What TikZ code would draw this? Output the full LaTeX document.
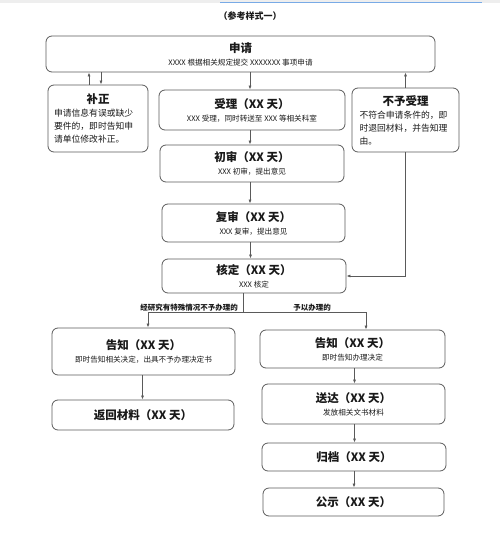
\documentclass[tikz,border=0pt]{standalone}
\usepackage{fontspec}
\setmainfont{Noto Sans CJK SC}
\usepackage{tikz}
\usetikzlibrary{arrows.meta,calc,positioning}
\definecolor{LineGray}{RGB}{90,90,90}
\definecolor{InkGray}{RGB}{25,25,25}
\definecolor{BarGray}{RGB}{238,238,238}
\definecolor{BarBlue}{RGB}{120,170,230}
\newcommand{\flowtext}[2]{{\fontsize{11.5}{14}\selectfont\bfseries #1}\\[1pt]{\fontsize{7.6}{9}\selectfont #2}}
\newcommand{\flowhead}[1]{{\fontsize{11.5}{14}\selectfont\bfseries #1}}

\begin{document}
\begin{tikzpicture}[x=1pt,y=-1pt,>={Latex[length=4pt,width=3pt]},
  flowbox/.style={draw=LineGray,line width=0.8pt,rounded corners=6pt,
    inner sep=0pt,align=center,text=InkGray},
  flowline/.style={draw=LineGray,line width=0.7pt},
  branchlabel/.style={font=\fontsize{7.5}{9}\selectfont\bfseries,text=InkGray,inner sep=1pt}]
  \useasboundingbox (0,0) rectangle (500,537);
  % top strip
  \fill[BarGray] (0,0) rectangle (500,3);
  \draw[BarBlue,line width=1pt] (220,3)--(482,3);
  \node[font=\fontsize{9}{11}\selectfont\bfseries,text=InkGray] (title) at (250,16) {（参考样式一）};

  \node[flowbox,minimum width=389,minimum height=36] (shenqing) at (240.5,54)
    {\flowtext{申请}{XXXX 根据相关规定提交 XXXXXXX 事项申请}};
  \node[flowbox,minimum width=100,minimum height=67] (buzheng) at (98,118.5)
    {\parbox{88pt}{\centering\flowhead{补正}\par\raggedright\fontsize{8.8}{13}\selectfont
      申请信息有误或缺少\\要件的，即时告知申\\请单位修改补正。}};
  \node[flowbox,minimum width=186,minimum height=40] (shouli) at (252,110)
    {\flowtext{受理（XX 天）}{XXX 受理，同时转送至 XXX 等相关科室}};
  \node[flowbox,minimum width=107,minimum height=64] (buyu) at (405.5,120)
    {\parbox{92pt}{\centering\flowhead{不予受理}\par\raggedright\fontsize{8.8}{13}\selectfont
      不符合申请条件的，即\\时退回材料，并告知理\\由。}};
  \node[flowbox,minimum width=184,minimum height=37] (chushen) at (252,163.5)
    {\flowtext{初审（XX 天）}{XXX 初审，提出意见}};
  \node[flowbox,minimum width=183,minimum height=38] (fushen) at (253.5,223)
    {\flowtext{复审（XX 天）}{XXX 复审，提出意见}};
  \node[flowbox,minimum width=184,minimum height=34] (heding) at (254,276)
    {\flowtext{核定（XX 天）}{XXX 核定}};

  \node[flowbox,minimum width=183,minimum height=47] (gaozhiL) at (143.5,351.5)
    {\flowtext{告知（XX 天）}{即时告知相关决定，出具不予办理决定书}};
  \node[flowbox,minimum width=182,minimum height=30] (fanhui) at (143,415)
    {\flowhead{返回材料（XX 天）}};
  \node[flowbox,minimum width=185,minimum height=38] (gaozhiR) at (352.5,349)
    {\flowtext{告知（XX 天）}{即时告知办理决定}};
  \node[flowbox,minimum width=183,minimum height=40] (songda) at (353.5,404)
    {\flowtext{送达（XX 天）}{发放相关文书材料}};
  \node[flowbox,minimum width=184,minimum height=28] (guidang) at (354,457)
    {\flowhead{归档（XX 天）}};
  \node[flowbox,minimum width=181,minimum height=28] (gongshi) at (353.5,502)
    {\flowhead{公示（XX 天）}};

  % connectors
  \draw[flowline,->] ([xshift=-9]buzheng.north) -- ([xshift=-9]buzheng.north |- shenqing.south);
  \draw[flowline,->] ([xshift=3]buzheng.north |- shenqing.south) -- ([xshift=3]buzheng.north);
  \draw[flowline,->] ([xshift=-2]shouli.north |- shenqing.south) -- ([xshift=-2]shouli.north);
  \draw[flowline,->] (buyu.north) -- (buyu.north |- shenqing.south);
  \draw[flowline,->] ([xshift=-2]shouli.south) -- ([xshift=-2]shouli.south |- chushen.north);
  \draw[flowline,->] ([xshift=-2]chushen.south) -- ([xshift=-2]chushen.south |- fushen.north);
  \draw[flowline,->] ([xshift=-3]fushen.south) -- ([xshift=-3]fushen.south |- heding.north);
  \draw[flowline,->] (buyu.south) |- (heding.east);

  \coordinate (split) at (243,312);
  \coordinate (splitL) at (148,312);
  \coordinate (splitR) at (366,312);
  \draw[flowline] (split |- heding.south) -- (split);
  \draw[flowline] (splitL) -- (splitR);
  \draw[flowline,->] (splitL) -- (splitL |- gaozhiL.north);
  \draw[flowline,->] (splitR) -- (splitR |- gaozhiR.north);
  \node[branchlabel,above] (noLabel) at (189,312) {经研究有特殊情况不予办理的};
  \node[branchlabel,above] (yesLabel) at (312,312) {予以办理的};

  \draw[flowline,->] ([xshift=-1]gaozhiL.south) -- ([xshift=-1]gaozhiL.south |- fanhui.north);
  \draw[flowline,->] ([xshift=2]gaozhiR.south) -- ([xshift=2]gaozhiR.south |- songda.north);
  \draw[flowline,->] ([xshift=1]songda.south) -- ([xshift=1]songda.south |- guidang.north);
  \draw[flowline,->] (guidang.south) -- (guidang.south |- gongshi.north);
\end{tikzpicture}
\end{document}
